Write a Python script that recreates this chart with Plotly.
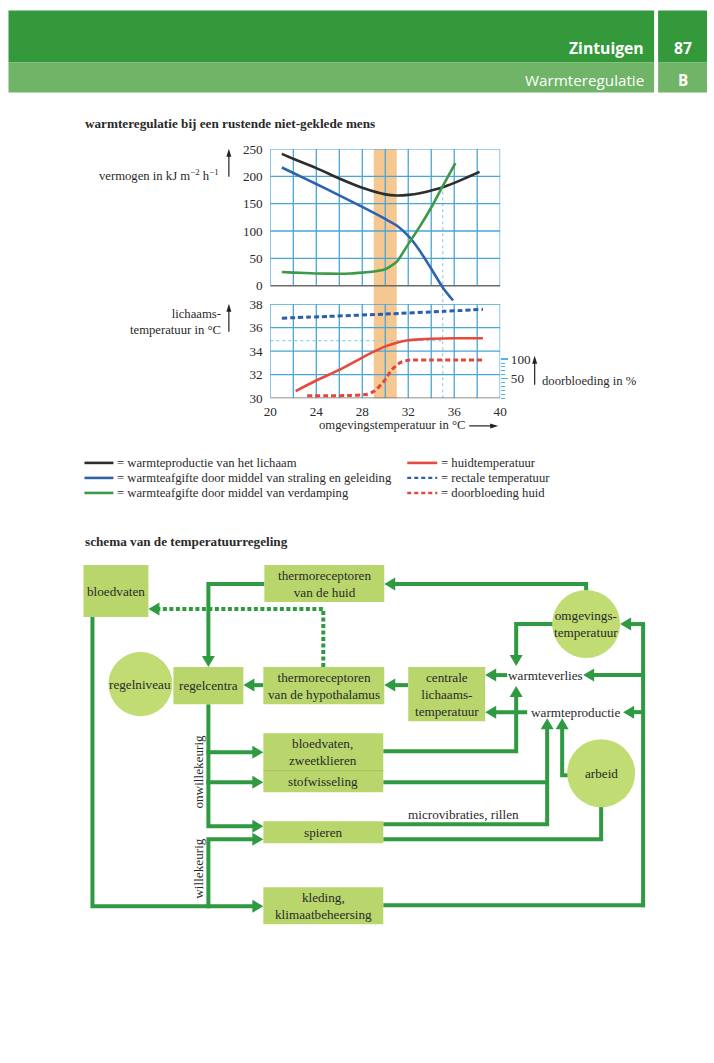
import math
import plotly.graph_objects as go

W, H = 714, 1063

# ---------------- data ----------------
prod_x = [21, 22, 24, 26, 28, 30, 31, 32, 33, 34, 35, 36, 37, 38.2]
warmteproductie = [241, 232, 215, 196, 179, 167, 165, 166, 169, 174, 180, 188, 197, 208]

stral_x = [21, 22, 24, 26, 28, 30, 31, 32, 33, 34, 35, 35.9]
straling = [216, 206, 186, 165, 144, 122, 110, 91, 64, 31, -3, -27]

verd_x = [21, 22, 24, 26, 27, 28, 29, 30, 31, 32, 33, 34, 35, 36.1]
verdamping = [25, 24, 22.5, 22, 22.5, 24, 26, 30, 44, 76, 108, 143, 182, 224]

rect_x = [21, 25, 30, 35, 38.5]
rectale = [36.8, 36.95, 37.15, 37.38, 37.55]

huid_x = [22.2, 24, 26, 28, 29, 30, 31, 32, 33, 34, 36, 38.5]
huidtemp = [30.6, 31.5, 32.4, 33.45, 33.95, 34.4, 34.72, 34.92, 35.0, 35.05, 35.09, 35.1]

door_x = [23.2, 25, 27, 28.4, 29.1, 29.9, 30.6, 31.3, 32, 34, 36, 38.5]
doorbloeding = [6, 6, 7, 10, 19, 44, 74, 91, 97, 98, 98, 98]

comfort_zone = [29, 31]
ref_x = 35
ref_y = 34.9

x_ticks = [20, 24, 28, 32, 36, 40]
top_ticks = [0, 50, 100, 150, 200, 250]
bot_ticks = [30, 32, 34, 36, 38]
pct_ticks = [50, 100]
pct_minor = list(range(0, 101, 10))

legend_left = [("= warmteproductie van het lichaam", "#2d2d2d", None),
               ("= warmteafgifte door middel van straling en geleiding", "#2e64ad", None),
               ("= warmteafgifte door middel van verdamping", "#3c9a47", None)]
legend_right = [("= huidtemperatuur", "#e64a3c", None),
                ("= rectale temperatuur", "#2b5ea8", "4px,3px"),
                ("= doorbloeding huid", "#e2463d", "4px,3px")]

# ---------------- colours ----------------
GRID = "#4aa5d6"
AXD = "#6a6a6a"
BAND = "#f6c891"
G = "#2f9a41"
BOX = "#b8d66c"
CIRC = "#c0dc72"
TXT = "#2a2a2a"
SERIF = "Liberation Serif, DejaVu Serif, serif"
SANS = "Open Sans, Noto Sans, sans-serif"

# mapping from reference-picture pixels to page pixels (compensates the photo framing)
OFF = 6.5
SX = 0.981
SY = 0.985
FS = 1.015

def pxx(q):
    return ((q - OFF) / SX) / W

def pxy(q):
    return 1 - ((q - OFF) / SY) / H

fig = go.Figure()

def sc(x, y, xa, ya, color, dash=None, width=2.6):
    fig.add_trace(go.Scatter(x=x, y=y, xaxis=xa, yaxis=ya, mode="lines",
                             line=dict(color=color, width=width, dash=dash, shape="spline", smoothing=0.6),
                             hoverinfo="skip", showlegend=False))

sc(prod_x, warmteproductie, "x", "y", "#2d2d2d")
sc(stral_x, straling, "x", "y", "#2e64ad")
sc(verd_x, verdamping, "x", "y", "#3c9a47")
sc(rect_x, rectale, "x2", "y2", "#2b5ea8", dash="5px,3px", width=3)
sc(huid_x, huidtemp, "x2", "y2", "#e64a3c")
sc(door_x, doorbloeding, "x2", "y3", "#e2463d", dash="5px,3px", width=3)
fig.add_trace(go.Scatter(x=[], y=[], xaxis="x4", yaxis="y4", showlegend=False))

shapes = []
ann = []

xd = [pxx(270), pxx(500)]
top_dom = [pxy(301.4), pxy(148.3)]
bot_dom = [pxy(397.3), pxy(303.3)]

shapes.append(dict(type="rect", xref="x", yref="paper", x0=comfort_zone[0], x1=comfort_zone[1],
                   y0=pxy(397.3), y1=pxy(148.3), fillcolor=BAND, line=dict(width=0), layer="below"))
shapes.append(dict(type="line", xref="x", yref="paper", x0=ref_x, x1=ref_x, y0=pxy(397.3), y1=pxy(186.7),
                   line=dict(color="#9ccbe6", width=1.2, dash="3px,3px"), layer="below"))
shapes.append(dict(type="line", xref="x2", yref="y2", x0=20, x1=ref_x, y0=ref_y, y1=ref_y,
                   line=dict(color="#9ccbe6", width=1.2, dash="3px,3px"), layer="below"))

for xv in range(20, 41, 2):
    shapes.append(dict(type="line", xref="x", yref="y", x0=xv, x1=xv, y0=0, y1=250,
                       line=dict(color=GRID, width=1.3), layer="below"))
    shapes.append(dict(type="line", xref="x2", yref="y2", x0=xv, x1=xv, y0=30, y1=38,
                       line=dict(color=GRID, width=1.3), layer="below"))
for yv in top_ticks[1:]:
    shapes.append(dict(type="line", xref="x", yref="y", x0=20, x1=40, y0=yv, y1=yv,
                       line=dict(color=GRID, width=1.3), layer="below"))
for yv in bot_ticks[1:]:
    shapes.append(dict(type="line", xref="x2", yref="y2", x0=20, x1=40, y0=yv, y1=yv,
                       line=dict(color=GRID, width=1.3), layer="below"))
shapes.append(dict(type="line", xref="x", yref="y", x0=20, x1=40, y0=0, y1=0,
                   line=dict(color=AXD, width=1.5), layer="below"))
shapes.append(dict(type="line", xref="x2", yref="y2", x0=20, x1=40, y0=30, y1=30,
                   line=dict(color=AXD, width=1.5), layer="below"))

def cshape(**kw):
    d = dict(xref="x4", yref="y4")
    d.update(kw)
    shapes.append(d)

def text(x, y, s, size=13, xanchor="center", yanchor="middle", color=TXT, family=SERIF, angle=0, align="center"):
    ann.append(dict(xref="x4", yref="y4", x=x, y=y, text=s, showarrow=False, xanchor=xanchor,
                    yanchor=yanchor, textangle=angle, align=align, borderpad=0,
                    font=dict(size=size * FS, color=color, family=family)))

def poly(pts, head=True, color=G, width=4, dash=None, hl=11, hw=6.5):
    pts = list(pts)
    if head:
        (x0, y0), (x1, y1) = pts[-2], pts[-1]
        L = math.hypot(x1 - x0, y1 - y0)
        ux, uy = (x1 - x0) / L, (y1 - y0) / L
        bx, by = x1 - ux * hl, y1 - uy * hl
        pts[-1] = (bx + ux * 1.5, by + uy * 1.5)
        tri = (f"M {x1},{y1} L {bx - uy * hw},{by + ux * hw} "
               f"L {bx + uy * hw},{by - ux * hw} Z")
        cshape(type="path", path=tri, fillcolor=color, line=dict(width=0))
    p = "M " + " L ".join(f"{a},{b}" for a, b in pts)
    cshape(type="path", path=p, line=dict(color=color, width=width, dash=dash))

def box(x0, y0, x1, y1, s, size=13):
    cshape(type="rect", x0=x0, y0=y0, x1=x1, y1=y1, fillcolor=BOX, line=dict(width=0))
    text((x0 + x1) / 2, (y0 + y1) / 2, s, size=size)

def circle(cx, cy, r, s, size=13):
    cshape(type="circle", x0=cx - r, y0=cy - r, x1=cx + r, y1=cy + r, fillcolor=CIRC, line=dict(width=0))
    text(cx, cy, s, size=size)

# --------- header ----------
cshape(type="rect", x0=8, y0=10, x1=654, y1=62, fillcolor="#33993a", line=dict(width=0))
cshape(type="rect", x0=8, y0=62, x1=654, y1=92, fillcolor="#70b468", line=dict(width=0))
cshape(type="rect", x0=658, y0=10, x1=730, y1=62, fillcolor="#33993a", line=dict(width=0))
cshape(type="rect", x0=658, y0=62, x1=730, y1=92, fillcolor="#70b468", line=dict(width=0))
text(645, 47, "<b>Zintuigen</b>", size=15.5, xanchor="right", color="white", family=SANS)
text(683, 47, "<b>87</b>", size=15.5, color="white", family=SANS)
text(645, 79, "Warmteregulatie", size=15, xanchor="right", color="white", family=SANS)
text(683, 79, "<b>B</b>", size=15, color="white", family=SANS)

# --------- chart titles / labels ----------
text(84, 123, "<b>warmteregulatie bij een rustende niet-geklede mens</b>", size=13, xanchor="left")
text(220, 174, "vermogen in kJ m<sup>−2</sup> h<sup>−1</sup>", size=12.5, xanchor="right")
text(222, 321, "lichaams-<br>temperatuur in °C", size=12.5, xanchor="right", align="right")
text(541, 380, "doorbloeding in %", size=12.5, xanchor="left")
text(392, 424, "omgevingstemperatuur in °C", size=12.5)
poly([(228.5, 176), (228.5, 148)], color="#222", width=1.2, hl=8, hw=2.5)
poly([(228.5, 331), (228.5, 303)], color="#222", width=1.2, hl=8, hw=2.5)
poly([(534.5, 384), (534.5, 355)], color="#222", width=1.2, hl=8, hw=2.5)
poly([(469, 425), (498, 425)], color="#222", width=1.2, hl=8, hw=2.5)

# --------- legend ----------
for i, (s, c, d) in enumerate(legend_left):
    y = 462 + 15 * i
    poly([(84, y), (113, y)], head=False, color=c, width=2.6)
    text(116, y, s, size=12.5, xanchor="left")
for i, (s, c, d) in enumerate(legend_right):
    y = 462 + 15 * i
    poly([(407, y), (437, y)], head=False, color=c, width=2.6 if d is None else 2.4, dash=d)
    text(440, y, s, size=12.5, xanchor="left")

# --------- schema ----------
text(84, 541, "<b>schema van de temperatuurregeling</b>", size=13, xanchor="left")

poly([(264, 583), (208, 583), (208, 666)])
poly([(323, 666), (323, 608), (148, 608)], dash="4px,2.5px")
poly([(263, 684), (243, 684)])
poly([(408, 684), (384, 684)])
poly([(586, 590), (586, 583), (384, 583)])
poly([(553, 623), (516, 623), (516, 665)])
poly([(507, 674), (485, 674)])
poly([(527, 711), (485, 711)])
poly([(643, 906), (643, 623)], head=False)
poly([(645, 623), (620, 623)])
poly([(645, 674), (583, 674)])
poly([(645, 711), (623, 711)])
poly([(383, 904), (645, 904)], head=False)
poly([(92, 615), (92, 905), (263, 905)])
poly([(208, 703), (208, 825), (263, 825)])
poly([(206, 751), (263, 751)])
poly([(206, 781), (263, 781)])
poly([(208, 907), (208, 838), (263, 838)])
poly([(383, 750), (516, 750), (516, 685)])
poly([(383, 781), (547, 781)], head=False)
poly([(383, 823), (547, 823), (547, 717)])
poly([(568, 774), (562, 774), (562, 717)])
poly([(383, 838), (601, 838), (601, 804)], head=False)

box(83, 564, 148, 616, "bloedvaten")
box(264, 564, 384, 601, "thermoreceptoren<br>van de huid")
circle(140, 683, 32, "regelniveau")
box(173, 666, 243, 703, "regelcentra")
box(263, 666, 384, 703, "thermoreceptoren<br>van de hypothalamus")
box(408, 666, 485, 720, "centrale<br>lichaams-<br>temperatuur")
box(263, 732, 383, 769.5, "bloedvaten,<br>zweetklieren")
box(263, 769.5, 383, 791, "stofwisseling")
cshape(type="line", x0=263, x1=383, y0=769.5, y1=769.5, line=dict(color="#a6c45c", width=1))
box(263, 820, 383, 842, "spieren")
box(263, 886, 383, 923, "kleding,<br>klimaatbeheersing")
circle(586, 623, 34, "omgevings-<br>temperatuur")
circle(601, 772, 34, "arbeid")

text(545, 674, "warmteverlies")
text(575, 711, "warmteproductie")
text(463, 813, "microvibraties, rillen")
text(198, 770, "onwillekeurig", angle=-90)
text(198, 867, "willekeurig", angle=-90)

tickfont = dict(family=SERIF, size=13 * FS, color=TXT)
fig.update_layout(
    width=W, height=H, margin=dict(l=0, r=0, t=0, b=0, pad=0),
    paper_bgcolor="white", plot_bgcolor="rgba(0,0,0,0)", showlegend=False,
    font=dict(family=SERIF, color=TXT, size=13),
    shapes=shapes, annotations=ann,
    xaxis=dict(domain=xd, range=[20, 40], anchor="y", showgrid=False, zeroline=False,
               showticklabels=False, showline=False, fixedrange=True),
    yaxis=dict(domain=top_dom, range=[-30, 250], anchor="x", showgrid=False, zeroline=False,
               tickvals=top_ticks, ticks="outside", ticklen=4, tickcolor="rgba(0,0,0,0)",
               tickfont=tickfont, showline=False, fixedrange=True),
    xaxis2=dict(domain=xd, range=[20, 40], anchor="y2", showgrid=False, zeroline=False,
                tickvals=x_ticks, ticks="outside", ticklen=1, tickcolor="rgba(0,0,0,0)",
                tickfont=tickfont, showline=False, fixedrange=True),
    yaxis2=dict(domain=bot_dom, range=[30, 38], anchor="x2", showgrid=False, zeroline=False,
                tickvals=bot_ticks, ticks="outside", ticklen=4, tickcolor="rgba(0,0,0,0)",
                tickfont=tickfont, showline=False, fixedrange=True),
    yaxis3=dict(overlaying="y2", anchor="x2", side="right", range=[0, 241], showgrid=False,
                zeroline=False, tickvals=pct_ticks, ticks="outside", ticklen=7,
                tickwidth=1.3, tickcolor="#5ab0de", tickfont=tickfont, showline=False, fixedrange=True,
                minor=dict(tickvals=pct_minor, ticks="outside", ticklen=4, tickwidth=1,
                           tickcolor="#5ab0de", showgrid=False)),
    xaxis4=dict(domain=[0, 1], range=[OFF, OFF + SX * W], anchor="y4", visible=False, fixedrange=True),
    yaxis4=dict(domain=[0, 1], range=[OFF + SY * H, OFF], anchor="x4", visible=False, fixedrange=True),
)

post = ("document.documentElement.style.margin='0';document.documentElement.style.padding='0';"
        "document.body.style.margin='0';document.body.style.padding='0';"
        "document.body.style.overflow='hidden';"
        "var d=document.getElementsByClassName('plotly-graph-div')[0];"
        "d.style.position='fixed';d.style.left='0px';d.style.top='0px';")
fig.write_html("out.html", config={"displayModeBar": False, "staticPlot": True}, post_script=post)
